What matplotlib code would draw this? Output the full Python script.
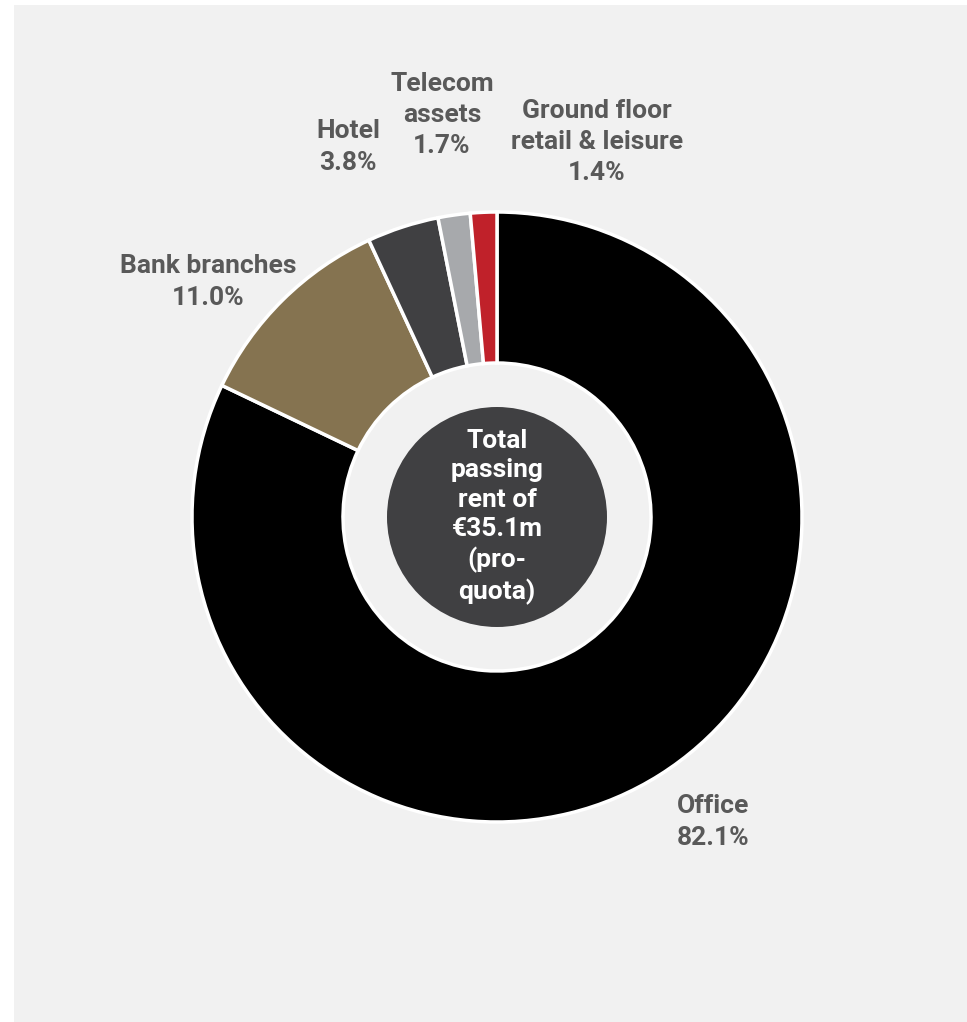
import matplotlib
matplotlib.use("Agg")
import matplotlib.pyplot as plt
from matplotlib.patches import Rectangle, Circle

plt.rcParams['font.family'] = ['Roboto', 'DejaVu Sans']

categories = ["Office", "Bank branches", "Hotel", "Telecom\nassets", "Ground floor\nretail & leisure"]
values = [82.1, 11.0, 3.8, 1.7, 1.4]
colors = ["#000000", "#857350", "#404042", "#a7a9ac", "#c0212a"]
center_text = "Total\npassing\nrent of\n€35.1m\n(pro-\nquota)"

W, H = 967, 1022
fig = plt.figure(figsize=(W / 100, H / 100), dpi=100)
fig.patch.set_facecolor("white")

ax = fig.add_axes([0, 0, 1, 1])
ax.patch.set_alpha(0)
ax.add_patch(Rectangle((14 / W, 0), (W - 14) / W, (H - 5) / H,
                       transform=fig.transFigure, facecolor="#f1f1f1",
                       edgecolor="none", zorder=-10, clip_on=False))

def py(y):
    return H - y

cx, cy = 497, py(517)
R = 305
ax.pie(values, colors=colors, startangle=90, counterclock=False,
       center=(cx, cy), radius=R, frame=True,
       wedgeprops=dict(width=R - 154, edgecolor="white", linewidth=2.5))
ax.set_xlim(0, W)
ax.set_ylim(0, H)
ax.set_aspect("equal")
ax.axis("off")

ax.add_patch(Circle((cx, cy), 110, facecolor="#404042", edgecolor="none", zorder=5))
ax.text(cx, cy, center_text, ha="center", va="center", color="white",
        fontsize=19, fontweight="bold", linespacing=1.28, zorder=6)

label_color = "#595959"
fs = 19
labels = [f"{c}\n{v:.1f}%" for c, v in zip(categories, values)]
label_pos = [(713, 822), (208, 282), (348, 147), (442, 115), (597, 142)]
for lab, (x, y) in zip(labels, label_pos):
    ax.text(x, py(y), lab, ha="center", va="center", color=label_color,
            fontsize=fs, fontweight="bold", linespacing=1.38)

fig.savefig("out.png", dpi=100, facecolor=fig.get_facecolor())
